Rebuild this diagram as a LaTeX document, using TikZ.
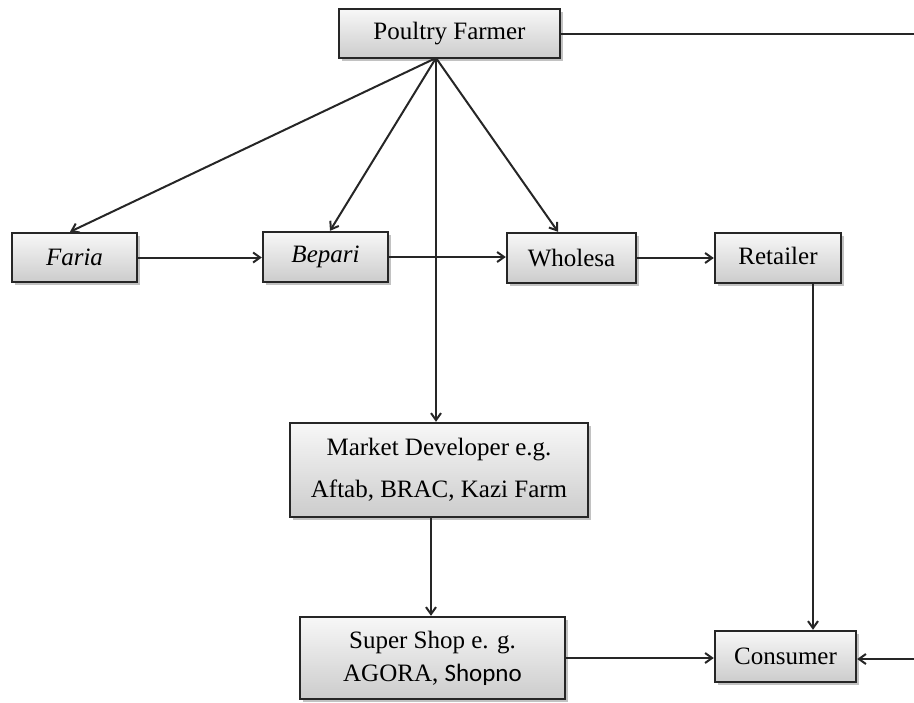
\documentclass[tikz,border=0pt]{standalone}
\usepackage{fontspec}
\setmainfont{Liberation Serif}
\newfontfamily\calfont{Carlito}
\usetikzlibrary{arrows.meta,shadows}
\begin{document}
\begin{tikzpicture}[x=0.5pt,y=-0.5pt,
  box/.style={draw=black!85, line width=1.2pt, top color=gray!6, bottom color=gray!40,
    drop shadow={shadow xshift=1.6pt, shadow yshift=-1.6pt, fill=black!40, opacity=0.6},
    inner sep=0pt, align=center, font=\fontsize{12.5}{15}\selectfont},
  arr/.style={-{Straight Barb[length=3.5pt,width=5pt]}, line width=1pt, draw=black!85},
  ln/.style={line width=1pt, draw=black!85}]
\useasboundingbox (0,0) rectangle (914,702);
\node[box, minimum width=110.5pt, minimum height=24.5pt] (pf) at (449.5,33.5) {Poultry Farmer\strut};
\node[box, minimum width=62.5pt, minimum height=24.5pt] (fa) at (74.5,257.5) {\textit{Faria}};
\node[box, minimum width=62.5pt, minimum height=25pt] (be) at (325.5,257) {\textit{Bepari}};
\node[box, minimum width=64.5pt, minimum height=25pt] (wh) at (571.5,258) {Wholesa};
\node[box, minimum width=63pt, minimum height=25pt] (rt) at (778,258) {Retailer\strut};
\node[box, minimum width=149pt, minimum height=47pt, font=\fontsize{12.5}{21}\selectfont] (md) at (439,470) {Market Developer e.g.\\Aftab, BRAC, Kazi Farm};
\node[box, minimum width=132.5pt, minimum height=41pt, font=\fontsize{12.5}{16.5}\selectfont] (ss) at (432.5,658) {Super Shop e. g.\\AGORA, {\calfont Shopno}};
\node[box, minimum width=70.5pt, minimum height=25.5pt] (co) at (785.5,656.5) {Consumer};
\coordinate (hub) at (436,58);
\coordinate (re1) at (914,32);
\coordinate (re2) at (914,659);
% fan from poultry farmer
\draw[arr] (hub) -- ([xshift=-2.25pt]fa.north);
\draw[arr] (hub) -- ([xshift=2.25pt]be.north);
\draw[arr] (hub) -- ([xshift=-6.75pt]wh.north);
\draw[arr] (hub) -- (hub |- md.north);
% horizontal chain
\draw[arr] (fa.east) -- (fa.east -| be.west);
\draw[arr] (be.east) -- (be.east -| wh.west);
\draw[arr] (wh.east) -- (wh.east -| rt.west);
% verticals
\draw[arr] ([xshift=17.5pt]rt.south) -- ([xshift=17.5pt]rt.south |- co.north);
\draw[arr] ([xshift=-4pt]md.south) -- ([xshift=-4pt]md.south |- ss.north);
\draw[arr] (ss.east) -- (ss.east -| co.west);
% right side
\draw[ln] (pf.east) -- (pf.east -| re1);
\draw[arr] (re2) -- (re2 -| co.east);
\end{tikzpicture}
\end{document}
